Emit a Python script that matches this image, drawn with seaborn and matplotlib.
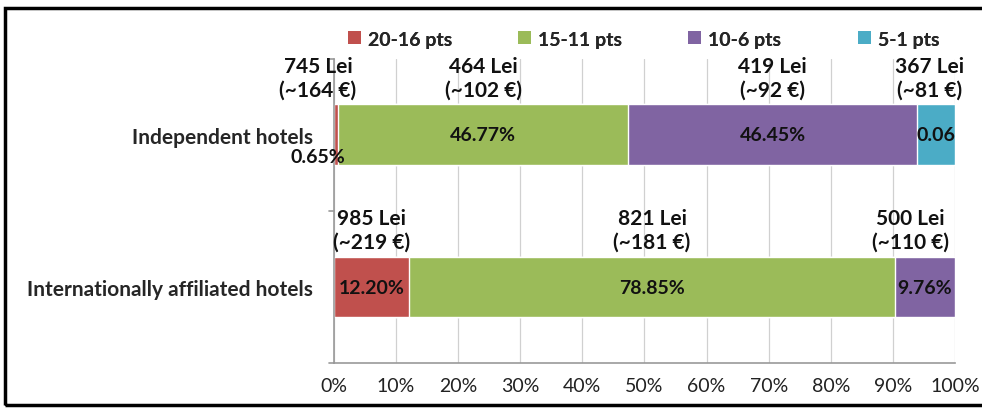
import pandas as pd
import matplotlib.pyplot as plt
import seaborn as sns
from matplotlib.patches import Patch, Rectangle

hotels = ["Independent hotels", "Internationally affiliated hotels"]
groups = ["20-16 pts", "15-11 pts", "10-6 pts", "5-1 pts"]
colors = ["#C0504D", "#9BBB59", "#8064A2", "#4BACC6"]

independent = [0.65, 46.77, 46.45, 6.13]
international = [12.20, 78.85, 9.76, 0.0]

pct_labels = [["0.65%", "46.77%", "46.45%", "0.06"],
              ["12.20%", "78.85%", "9.76%", ""]]
lei_labels = [["745 Lei\n(~164 €)", "464 Lei\n(~102 €)", "419 Lei\n(~92 €)", "367 Lei\n(~81 €)"],
              ["985 Lei\n(~219 €)", "821 Lei\n(~181 €)", "500 Lei\n(~110 €)", ""]]

df = pd.DataFrame([independent, international], index=hotels, columns=groups)
df = df.div(df.sum(axis=1), axis=0) * 100
cum = df.cumsum(axis=1)

sns.set_style("white")
plt.rcParams['font.family'] = ['Lato', 'DejaVu Sans']

fig = plt.figure(figsize=(9.82, 4.10), dpi=100)
ax = fig.add_axes([0.340, 0.112, 0.6325, 0.742])

# stacked bars: draw cumulative totals from the last group back to the first
for g, c in reversed(list(zip(groups, colors))):
    d = pd.DataFrame({"hotel": hotels, "value": cum[g].values})
    sns.barplot(data=d, x="value", y="hotel", color=c, width=0.4,
                saturation=1, ax=ax, orient="h")

ax.set_xlim(0, 100)
ax.set_ylim(1.5, -0.5)
ax.set_xticks(range(0, 101, 10))
ax.set_xticklabels([f"{t}%" for t in range(0, 101, 10)], fontsize=14, color="#222222")
ax.set_yticks([0, 1])
ax.set_yticklabels(hotels, fontsize=15, fontweight="bold")
ax.tick_params(axis="y", length=0, pad=15)
ax.tick_params(axis="x", length=5, color="#999999", direction="out", pad=5)
ax.set_xlabel("")
ax.set_ylabel("")
ax.xaxis.grid(True, color="#d0d0d0", lw=0.9)
ax.set_axisbelow(True)
for s in ["top", "right"]:
    ax.spines[s].set_visible(False)
for s in ["left", "bottom"]:
    ax.spines[s].set_color("#999999")
    ax.spines[s].set_linewidth(1.2)
# category boundary ticks on the y axis
for yb in [-0.5, 0.5, 1.5]:
    ax.plot([-0.8, 0], [yb, yb], color="#999999", lw=1.2, clip_on=False)

# labels
lei_x_shift = [[-2.9, 0, 0, -1.0], [0, 0, -2.3, 0]]
for i, h in enumerate(hotels):
    left = 0
    for j, g in enumerate(groups):
        w = df.loc[h, g]
        center = left + w / 2
        if pct_labels[i][j]:
            if w < 2:
                ax.text(center + 1.5, i + 0.14, pct_labels[i][j], ha="right", va="center",
                        fontsize=14, fontweight="bold", color="#111111")
            else:
                ax.text(center, i, pct_labels[i][j], ha="center", va="center",
                        fontsize=14, fontweight="bold", color="#111111")
        if lei_labels[i][j]:
            ax.text(center + lei_x_shift[i][j], i - 0.235, lei_labels[i][j], ha="center",
                    va="bottom", fontsize=15, fontweight="bold", color="#111111",
                    linespacing=1.22, clip_on=False)
        left += w

# legend: one entry per slot, evenly spaced like the original
legend_x = [0.3545, 0.5276, 0.7007, 0.8738]
for g, c, lx in zip(groups, colors, legend_x):
    fig.add_artist(fig.legend([Patch(facecolor=c, edgecolor="none")], [g],
                              loc="center left", bbox_to_anchor=(lx, 0.902),
                              frameon=False, borderpad=0, borderaxespad=0,
                              handlelength=0.65, handleheight=0.65, handletextpad=0.35,
                              prop={"weight": "bold", "size": 14}))

fig.patches.append(Rectangle((0.005, 0.01), 1.2, 0.968, transform=fig.transFigure,
                             fill=False, edgecolor="black", lw=2.5))

fig.savefig("out.png", dpi=100)
